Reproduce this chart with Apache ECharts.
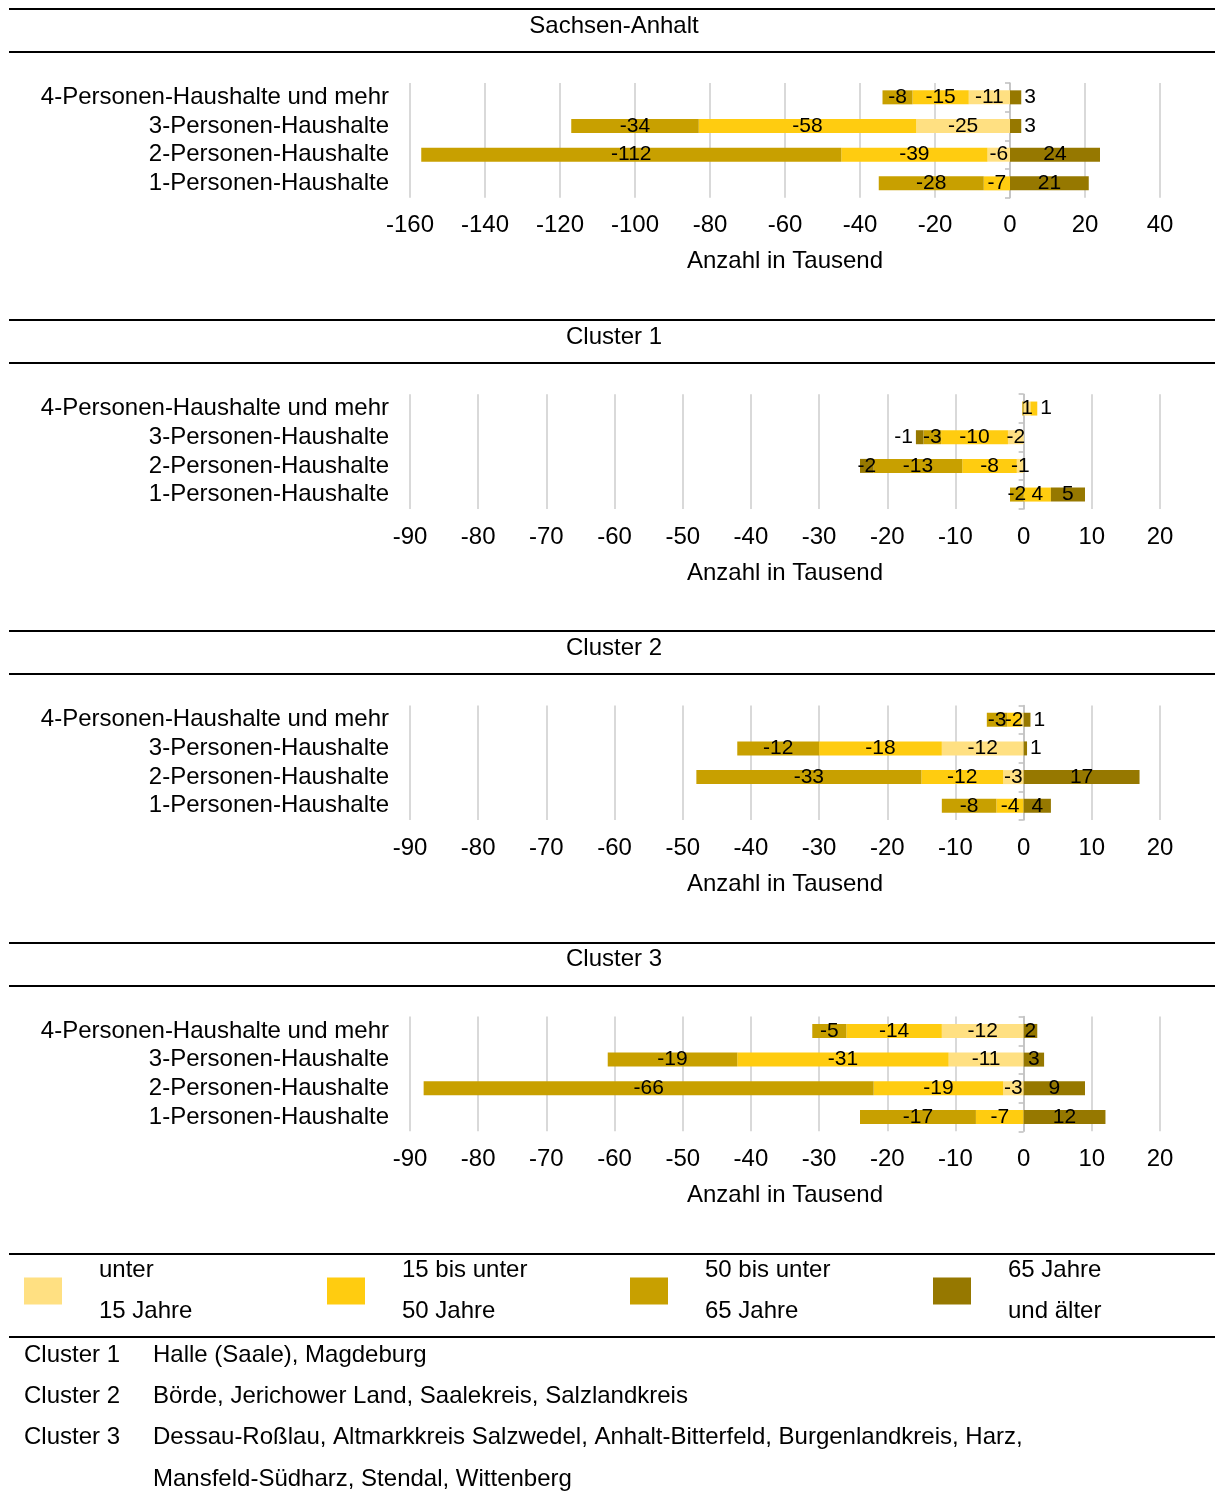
<!DOCTYPE html>
<html>
<head>
<meta charset="utf-8">
<script src="https://cdn.jsdelivr.net/npm/echarts@6/dist/echarts.min.js"></script>
<style>
html,body{margin:0;padding:0;background:#fff;}
#chart{width:1215px;height:1497px;}
</style>
</head>
<body>
<div id="chart"></div>
<script>
// ---------- data ----------
const categories = ['4-Personen-Haushalte und mehr', '3-Personen-Haushalte', '2-Personen-Haushalte', '1-Personen-Haushalte'];
const ageGroups = ['unter 15 Jahre', '15 bis unter 50 Jahre', '50 bis unter 65 Jahre', '65 Jahre und älter'];
const legendLabels = ['unter\n15 Jahre', '15 bis unter\n50 Jahre', '50 bis unter\n65 Jahre', '65 Jahre\nund älter'];
const panelTitles = ['Sachsen-Anhalt', 'Cluster 1', 'Cluster 2', 'Cluster 3'];

// Sachsen-Anhalt
const saUnter15 = [-11, -25, -6, 0];
const sa15bis50 = [-15, -58, -39, -7];
const sa50bis65 = [-8, -34, -112, -28];
const sa65plus  = [3, 3, 24, 21];
// Cluster 1
const c1Unter15 = [1, -2.3, -1, 0];
const c115bis50 = [1, -9.8, -8, 4];
const c150bis65 = [-0.2, -2.6, -13, -2];
const c165plus  = [0, -1.1, -2, 5];
// Cluster 2
const c2Unter15 = [-0.4, -12, -3, 0];
const c215bis50 = [-2, -18, -12, -4];
const c250bis65 = [-3, -12, -33, -8];
const c265plus  = [1, 0.5, 17, 4];
// Cluster 3
const c3Unter15 = [-12, -11, -3, 0];
const c315bis50 = [-14, -31, -19, -7];
const c350bis65 = [-5, -19, -66, -17];
const c365plus  = [2, 3, 9, 12];

// axis ticks
const axisMin = [-160, -90, -90, -90];
const axisMax = [40, 20, 20, 20];
const axisStep = [20, 10, 10, 10];
const axisName = 'Anzahl in Tausend';

const footLabels = ['Cluster 1', 'Cluster 2', 'Cluster 3', ''];
const footTexts = ['Halle (Saale), Magdeburg', 'Börde, Jerichower Land, Saalekreis, Salzlandkreis',
  'Dessau-Roßlau, Altmarkkreis Salzwedel, Anhalt-Bitterfeld, Burgenlandkreis, Harz,',
  'Mansfeld-Südharz, Stendal, Wittenberg'];

// ---------- styling / layout ----------
const colors = ['#FFE082', '#FFCC10', '#C8A000', '#967800'];
const FONT = 'Liberation Sans, Arial, sans-serif';
const panels = [
  [saUnter15, sa15bis50, sa50bis65, sa65plus],
  [c1Unter15, c115bis50, c150bis65, c165plus],
  [c2Unter15, c215bis50, c250bis65, c265plus],
  [c3Unter15, c315bis50, c350bis65, c365plus]
];
const PANEL_STEP = 311.2;

const grids = [], xAxes = [], yAxes = [], series = [], titles = [], graphics = [];

function lineEl(y, x1) {
  return {type: 'line', shape: {x1: x1 || 9, y1: y, x2: 1215, y2: y}, style: {stroke: '#000', lineWidth: 2}, silent: true};
}

panels.forEach((pd, p) => {
  const off = p * PANEL_STEP;
  grids.push({left: 410, width: 750, top: 83 + off, height: 114.7, containLabel: false});
  xAxes.push({
    gridIndex: p, type: 'value', min: axisMin[p], max: axisMax[p], interval: axisStep[p],
    axisLine: {show: false}, axisTick: {show: false},
    splitLine: {show: true, lineStyle: {color: '#d9d9d9', width: 2}},
    axisLabel: {fontSize: 24, color: '#000', margin: 16, fontFamily: FONT},
    name: axisName, nameLocation: 'middle', nameGap: 52,
    nameTextStyle: {fontSize: 24, color: '#000', fontFamily: FONT}
  });
  yAxes.push({
    gridIndex: p, type: 'category', data: categories, inverse: true,
    axisLine: {show: false, onZero: false}, axisTick: {show: false},
    axisLabel: {interval: 0, fontSize: 24, color: '#000', margin: 21, fontFamily: FONT}
  });
  yAxes.push({
    gridIndex: p, type: 'category', data: categories, inverse: true, position: 'left',
    axisLine: {show: true, onZero: true, lineStyle: {color: '#bfbfbf', width: 1.5}},
    axisTick: {show: true, interval: 0, length: 5, lineStyle: {color: '#bfbfbf', width: 1.5}},
    axisLabel: {show: false}, splitLine: {show: false}
  });
  const range = axisMax[p] - axisMin[p];
  pd.forEach((vals, s) => {
    series.push({
      type: 'bar', name: ageGroups[s], xAxisIndex: p, yAxisIndex: 2 * p, stack: 'panel' + p,
      barWidth: 14, itemStyle: {color: colors[s]},
      label: {
        show: true, position: 'inside', fontSize: 21, color: '#000', fontFamily: FONT,
        formatter: (prm) => { const r = Math.round(prm.value); return r === 0 ? '' : String(r); }
      },
      emphasis: {disabled: true},
      data: vals.map((v, i) => {
        let outer = true;
        for (let s2 = s + 1; s2 < pd.length; s2++) {
          if (Math.sign(pd[s2][i]) === Math.sign(v) && pd[s2][i] !== 0) outer = false;
        }
        const small = Math.abs(v) / range < 0.016;
        if (outer && small && v !== 0) {
          return {value: v, label: {position: v > 0 ? 'right' : 'left', distance: 3}};
        }
        return v;
      })
    });
  });
  titles.push({
    text: panelTitles[p], left: 614, top: 27 + off - 13, textAlign: 'center', padding: 0,
    textStyle: {fontSize: 24, fontWeight: 'normal', color: '#000', fontFamily: FONT}
  });
  graphics.push(lineEl(Math.round(9 + off)));
  graphics.push(lineEl(Math.round(52 + off)));
});

// legend frame lines
graphics.push(lineEl(1254));
graphics.push(lineEl(1337));

// footnotes
footTexts.forEach((t, i) => {
  const y = 1356 + i * 41.3;
  if (footLabels[i]) {
    graphics.push({type: 'text', left: 24, top: y - 13, style: {text: footLabels[i], fontSize: 24, fill: '#000', fontFamily: FONT}});
  }
  graphics.push({type: 'text', left: 153, top: y - 13, style: {text: t, fontSize: 24, fill: '#000', fontFamily: FONT}});
});

const chart = echarts.init(document.getElementById('chart'), null, {renderer: 'canvas'});
chart.setOption({
  animation: false,
  backgroundColor: '#fff',
  textStyle: {fontFamily: FONT},
  title: titles,
  grid: grids,
  xAxis: xAxes,
  yAxis: yAxes,
  series: series,
  legend: {
    data: ageGroups, left: 24, top: 1250, width: 1400, padding: 0, orient: 'horizontal', icon: 'rect',
    itemWidth: 38, itemHeight: 27, itemGap: 0, selectedMode: false,
    formatter: (name) => legendLabels[ageGroups.indexOf(name)],
    textStyle: {fontSize: 24, color: '#000', lineHeight: 41, width: 228, padding: [0, 0, 0, 32], fontFamily: FONT}
  },
  graphic: graphics
});
</script>
</body>
</html>
